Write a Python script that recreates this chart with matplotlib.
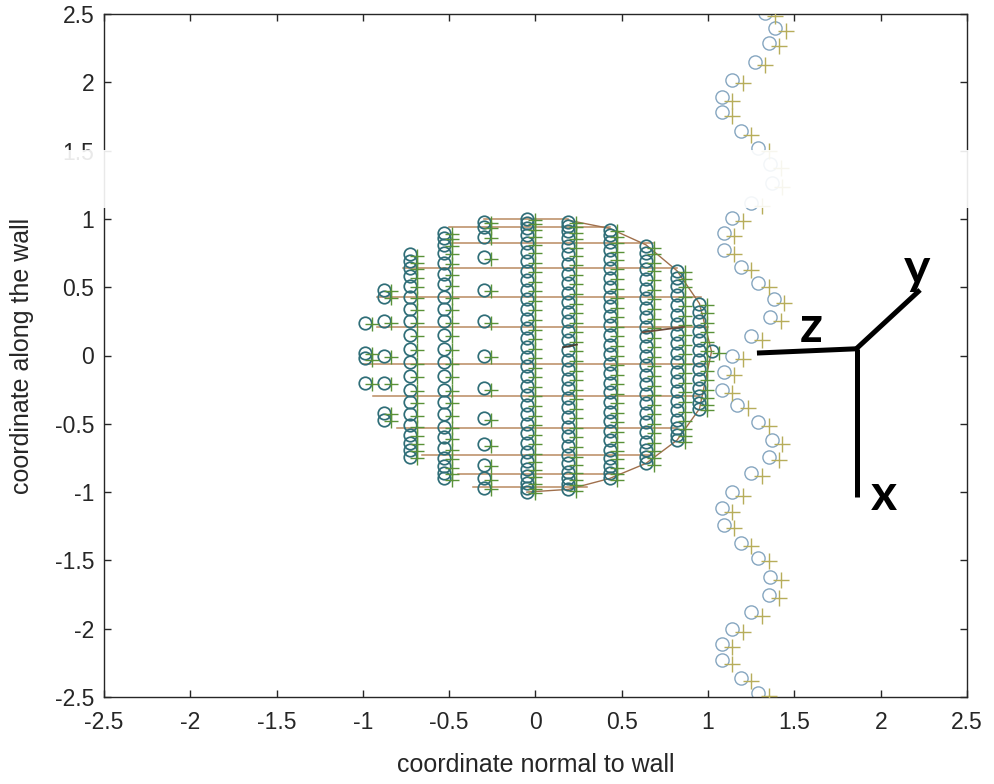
import matplotlib
matplotlib.use("Agg")
import matplotlib.pyplot as plt
from matplotlib.patches import Rectangle

plt.rcParams['font.family'] = ['Liberation Sans', 'DejaVu Sans']
plt.rcParams['axes.unicode_minus'] = False

# ---- sphere cross-section: columns of sample points ----
col_x = [-0.99, -0.88, -0.73, -0.53, -0.30, -0.05, 0.19, 0.43, 0.64, 0.82, 0.95, 1.02]
col_y = [
    [0.24, 0.02, -0.02, -0.20],
    [0.48, 0.43, 0.25, 0.00, -0.20, -0.42, -0.47],
    [0.74, 0.69, 0.64, 0.58, 0.51, 0.43, 0.34, 0.25, 0.15, 0.05, -0.05, -0.15,
     -0.25, -0.34, -0.43, -0.51, -0.58, -0.64, -0.69, -0.74],
    [0.90, 0.86, 0.81, 0.75, 0.68, 0.60, 0.52, 0.43, 0.34, 0.25, 0.15, 0.05,
     -0.05, -0.15, -0.25, -0.34, -0.43, -0.52, -0.60, -0.68, -0.75, -0.81, -0.86, -0.90],
    [0.98, 0.94, 0.87, 0.72, 0.48, 0.25, 0.00, -0.24, -0.46, -0.65, -0.80, -0.90, -0.97],
    [1.00, 0.97, 0.93, 0.88, 0.82, 0.76, 0.69, 0.62, 0.55, 0.48, 0.41, 0.34, 0.27,
     0.20, 0.13, 0.06, -0.01, -0.08, -0.15, -0.22, -0.29, -0.36, -0.43, -0.50,
     -0.57, -0.64, -0.71, -0.77, -0.83, -0.88, -0.93, -0.97, -1.00],
    [0.98, 0.95, 0.91, 0.86, 0.80, 0.74, 0.67, 0.60, 0.53, 0.46, 0.39, 0.32, 0.25,
     0.18, 0.11, 0.04, -0.03, -0.10, -0.17, -0.24, -0.31, -0.38, -0.45, -0.52,
     -0.59, -0.66, -0.73, -0.79, -0.85, -0.90, -0.94, -0.98],
    [0.92, 0.88, 0.83, 0.77, 0.71, 0.64, 0.57, 0.50, 0.43, 0.36, 0.29, 0.22, 0.15,
     0.08, 0.01, -0.06, -0.13, -0.20, -0.27, -0.34, -0.41, -0.48, -0.55, -0.62,
     -0.69, -0.75, -0.81, -0.86, -0.90],
    [0.80, 0.75, 0.69, 0.63, 0.56, 0.49, 0.42, 0.35, 0.28, 0.21, 0.14, 0.07, 0.00,
     -0.07, -0.14, -0.21, -0.28, -0.35, -0.42, -0.49, -0.56, -0.63, -0.69, -0.74, -0.79],
    [0.62, 0.57, 0.51, 0.44, 0.37, 0.30, 0.23, 0.16, 0.09, 0.02, -0.05, -0.12,
     -0.19, -0.26, -0.33, -0.40, -0.47, -0.53, -0.58, -0.62],
    [0.38, 0.32, 0.25, 0.18, 0.11, 0.04, -0.03, -0.10, -0.17, -0.24, -0.30, -0.35, -0.39],
    [0.03],
]
# shift of the second ("+") sample set relative to the first
plus_dx, plus_dy = 0.045, -0.01

# horizontal grid rows across the section: level, left end, right end
row_y = [1.00, 0.94, 0.82, 0.64, 0.43, 0.21, -0.06, -0.30, -0.53, -0.73, -0.87, -0.96]
row_x0 = [-0.30, -0.50, -0.50, -0.77, -0.92, -0.92, -1.00, -0.94, -0.80, -0.66, -0.45, -0.36]
row_x1 = [0.19, 0.43, 0.68, 0.82, 0.96, 1.00, 1.00, 0.95, 0.82, 0.68, 0.49, 0.30]

# outline along the right half of the section
rim_x = [0.19, 0.43, 0.64, 0.82, 0.95, 1.02, 0.95, 0.82, 0.64, 0.43, 0.19, -0.05]
rim_y = [0.99, 0.93, 0.81, 0.62, 0.38, 0.03, -0.39, -0.62, -0.79, -0.90, -0.98, -1.00]

# ---- wavy wall ----
wall_x = [1.33, 1.39, 1.35, 1.27, 1.14, 1.08, 1.08, 1.19, 1.29, 1.36, 1.37, 1.25,
          1.14, 1.09, 1.09, 1.19, 1.29, 1.38, 1.36, 1.25, 1.14, 1.09, 1.08, 1.17,
          1.29, 1.37, 1.35, 1.25, 1.14, 1.08, 1.09, 1.19, 1.29, 1.36, 1.35, 1.25,
          1.14, 1.08, 1.08, 1.19, 1.29]
wall_y = [2.51, 2.40, 2.29, 2.15, 2.02, 1.89, 1.78, 1.64, 1.52, 1.40, 1.26, 1.12,
          1.01, 0.90, 0.77, 0.65, 0.53, 0.41, 0.28, 0.14, 0.00, -0.12, -0.25, -0.36,
          -0.49, -0.62, -0.74, -0.86, -1.00, -1.12, -1.24, -1.37, -1.48, -1.62,
          -1.75, -1.88, -2.00, -2.11, -2.23, -2.36, -2.47]
wall_dx, wall_dy = 0.06, -0.025

ticks = [-2.5, -2, -1.5, -1, -0.5, 0, 0.5, 1, 1.5, 2, 2.5]
tick_labels = ['-2.5', '-2', '-1.5', '-1', '-0.5', '0', '0.5', '1', '1.5', '2', '2.5']

fig = plt.figure(figsize=(9.95, 7.84), dpi=100)
ax = fig.add_axes([104 / 995, 87 / 784, 863 / 995, 683 / 784])

line_c = '#b98a60'
circ_c = '#2f6e78'
plus_c = '#5a9238'
wall_o = '#86a6c0'
wall_p = '#b7ad5a'

for y, x0, x1 in zip(row_y, row_x0, row_x1):
    ax.plot([x0, x1], [y, y], color=line_c, lw=1.1, zorder=1)
ax.plot(rim_x, rim_y, color='#a0704c', lw=1.0, zorder=1)
# a few stray dark segments inside the section
ax.plot([0.62, 0.86], [0.17, 0.21], color='#6b4a3a', lw=1.3, zorder=4)
ax.plot([0.16, 0.24], [0.06, 0.08], color='#4a3a30', lw=1.3, zorder=4)

for cx, ys in zip(col_x, col_y):
    xs = [cx] * len(ys)
    ax.plot(xs, ys, linestyle='none', marker='o', ms=9, mfc='none',
            mec=circ_c, mew=1.25, zorder=2)
    ax.plot([v + plus_dx for v in xs], [v + plus_dy for v in ys], linestyle='none',
            marker='+', ms=10, mec=plus_c, mew=1.0, zorder=3)

ax.plot(wall_x, wall_y, linestyle='none', marker='o', ms=9.5, mfc='none',
        mec=wall_o, mew=1.0, zorder=2)
ax.plot([v + wall_dx for v in wall_x], [v + wall_dy for v in wall_y],
        linestyle='none', marker='+', ms=11, mec=wall_p, mew=1.0, zorder=3)

ax.set_xlim(-2.5, 2.5)
ax.set_ylim(-2.5, 2.5)
ax.set_xticks(ticks)
ax.set_xticklabels(tick_labels)
ax.set_yticks(ticks)
ax.set_yticklabels(tick_labels)
ax.tick_params(direction='in', length=5, width=1, top=True, right=True,
               labelsize=16.5, colors='#262626')
ax.tick_params(axis='x', pad=10)
ax.tick_params(axis='y', pad=7)
for s in ax.spines.values():
    s.set_color('#262626')
    s.set_linewidth(1.0)
ax.set_xlabel('coordinate normal to wall', fontsize=18, color='#262626', labelpad=14)
ax.set_ylabel('coordinate along the wall', fontsize=18, color='#262626', labelpad=15)

# coordinate-frame sketch
frame_kw = dict(color='black', lw=3.6, solid_capstyle='butt', zorder=6, clip_on=False)
ax.plot([1.283, 1.875], [0.018, 0.05], **frame_kw)
ax.plot([1.862, 1.862], [0.05, -1.036], **frame_kw)
ax.plot([1.855, 2.228], [0.045, 0.48], **frame_kw)
txt_kw = dict(fontsize=36, fontweight='bold', family=['Lato', 'DejaVu Sans'],
              color='black', ha='center', va='baseline', zorder=7)
ax.text(1.60, 0.10, 'z', **txt_kw)
ax.text(2.21, 0.52, 'y', **txt_kw)
ax.text(2.02, -1.13, 'x', **txt_kw)

# washed-out horizontal band
fig.patches.append(Rectangle((0, (784 - 208) / 784), 1, 58 / 784,
                             transform=fig.transFigure, facecolor='white',
                             edgecolor='none', alpha=0.9, zorder=10))

fig.savefig('out.png', dpi=100)
